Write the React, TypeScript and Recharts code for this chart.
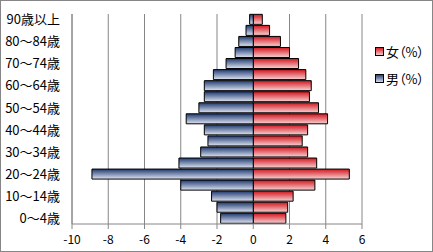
import { Bar, BarChart, CartesianGrid, XAxis, YAxis } from "recharts";

const AGES = [
  "0～4歳", "5～9歳", "10～14歳", "15～19歳", "20～24歳", "25～29歳", "30～34歳",
  "35～39歳", "40～44歳", "45～49歳", "50～54歳", "55～59歳", "60～64歳",
  "65～69歳", "70～74歳", "75～79歳", "80～84歳", "85～89歳", "90歳以上",
];
const MALE = [-1.8, -2.0, -2.3, -4.0, -8.9, -4.1, -2.9, -2.5, -2.7, -3.7, -3.0, -2.7, -2.7, -2.2, -1.5, -1.0, -0.8, -0.4, -0.2];
const FEMALE = [1.8, 1.9, 2.2, 3.4, 5.3, 3.5, 3.0, 2.7, 3.0, 4.1, 3.6, 3.1, 3.2, 2.9, 2.5, 2.0, 1.5, 0.9, 0.5];
const X_TICKS = [-10, -8, -6, -4, -2, 0, 2, 4, 6];
const LEGEND = [
  { label: "女（%）", fill: "url(#femaleFill)" },
  { label: "男（%）", fill: "url(#maleFill)" },
];

const data = AGES.map((age, i) => ({ age, male: MALE[i], female: FEMALE[i] }));

const FONT = "'Noto Sans CJK JP', sans-serif";
const X_TICK_STYLE = { fontSize: 12, fill: "#000", fontFamily: FONT };
const Y_TICK_STYLE = { fontSize: 13, fill: "#000", fontFamily: FONT };
const AXIS_GRAY = "#868686";

function LegendBox() {
  return (
    <div
      style={{
        position: "absolute",
        left: 374,
        top: 37,
        fontFamily: FONT,
        fontSize: 13,
        color: "#000",
        fontFeatureSettings: "'palt'",
      }}
    >
      {LEGEND.map((it) => (
        <div key={it.label} style={{ display: "flex", alignItems: "center", height: 27 }}>
          <svg width={9} height={9} style={{ marginRight: 2 }}>
            <rect x={0.5} y={0.5} width={8} height={8} fill={it.fill} stroke="#000" strokeWidth={1} />
          </svg>
          <span>{it.label}</span>
        </div>
      ))}
    </div>
  );
}

export default function App() {
  return (
    <div
      style={{
        position: "fixed",
        left: 0,
        top: 0,
        width: 433,
        height: 252,
        border: `1px solid ${AXIS_GRAY}`,
        boxSizing: "border-box",
        background: "#fff",
      }}
    >
      <BarChart
        width={431}
        height={250}
        data={data}
        layout="vertical"
        stackOffset="sign"
        barCategoryGap="3%"
        margin={{ top: 13, right: 70, bottom: 0, left: 0 }}
      >
        <defs>
          <linearGradient id="maleFill" x1="0" y1="0" x2="0" y2="1">
            <stop offset="0%" stopColor="#1f3a70" />
            <stop offset="100%" stopColor="#dfe4f2" />
          </linearGradient>
          <linearGradient id="femaleFill" x1="0" y1="0" x2="0" y2="1">
            <stop offset="0%" stopColor="#d2161e" />
            <stop offset="100%" stopColor="#f7d3d5" />
          </linearGradient>
        </defs>
        <CartesianGrid horizontal={false} stroke={AXIS_GRAY} />
        <XAxis
          type="number"
          domain={[-10, 6]}
          ticks={X_TICKS}
          tick={X_TICK_STYLE}
          stroke={AXIS_GRAY}
          height={27}
          tickSize={5}
          tickMargin={6}
        />
        <YAxis
          type="category"
          dataKey="age"
          reversed
          interval={1}
          width={71}
          tick={Y_TICK_STYLE}
          tickLine={false}
          stroke={AXIS_GRAY}
          tickMargin={6}
        />
        <Bar dataKey="female" name="女（%）" stackId="a" fill="url(#femaleFill)" stroke="#000" strokeWidth={1} isAnimationActive={false} />
        <Bar dataKey="male" name="男（%）" stackId="a" fill="url(#maleFill)" stroke="#000" strokeWidth={1} isAnimationActive={false} />
      </BarChart>
      <LegendBox />
    </div>
  );
}
